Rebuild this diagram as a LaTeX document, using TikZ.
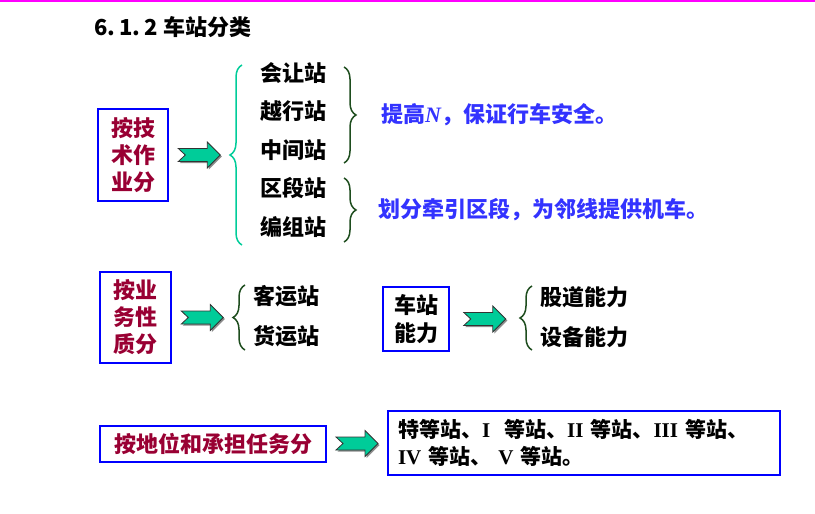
\documentclass[tikz,border=0pt]{standalone}
\usepackage{fontspec}
\setmainfont{Noto Sans CJK SC}
\newfontfamily\serifnum{Liberation Serif}
\usepackage{tikz}
\usetikzlibrary{chains}
\usetikzlibrary{positioning}
\usetikzlibrary{calc}
\usetikzlibrary{decorations.pathreplacing}
\usetikzlibrary{shadows}

\definecolor{boxblue}{HTML}{0000FF}
\definecolor{kindred}{HTML}{990033}
\definecolor{noteblue}{HTML}{3333FF}
\definecolor{bracegreen}{HTML}{00CC99}
\definecolor{bracedark}{HTML}{1E4D1E}
\definecolor{arrowgreen}{HTML}{00CC99}
\definecolor{arrowline}{HTML}{333333}
\definecolor{topline}{HTML}{FF00FF}

\begin{document}
\begin{tikzpicture}[
	x=1pt, y=1pt,
	start chain=1 going below,
	start chain=2 going below,
	start chain=3 going below,
	node distance=8pt,
	every node/.style={inner sep=0pt, font=\bfseries\fontsize{22}{27}\selectfont},
	catbox/.style={
		draw=boxblue,
		line width=1.2pt,
		align=center,
		text=kindred
		},
	station/.style={
		on chain=1,
		minimum height=30pt
	},
	pass/.style={
		on chain=2,
		minimum height=32pt
	},
	capitem/.style={
		on chain=3,
		minimum height=32pt
	},
	note/.style={
		anchor=west,
		text=noteblue
	},
	gbrace/.style={
		decorate,
		decoration={brace, amplitude=12pt},
		draw=bracegreen,
		line width=1.5pt
	},
	dbrace/.style={
		decorate,
		decoration={brace, amplitude=12pt},
		draw=bracedark,
		line width=1.5pt
	},
	pics/fatarrow/.style={code={
		\draw[fill=arrowgreen, draw=arrowline, line width=0.8pt,
			drop shadow={shadow xshift=1.5pt, shadow yshift=-1.5pt, fill=black!45, opacity=1}]
			(-21,6.5) -- (8,6.5) -- (8,13) -- (21,0) -- (8,-13) -- (8,-6.5)
			-- (-21,-6.5) -- (-14,0) -- cycle;
	}}
]
\useasboundingbox (0,0) rectangle (815,-514);
\draw[draw=topline, line width=2pt] (0,-1) -- (815,-1);

% Title
\node[anchor=west] (title) at (94,-27) {6.\kern4pt1.\kern4pt2\kern6pt 车站分类};

% Boxes
\node[catbox, minimum width=70pt, minimum height=92pt] (tech) at (133,-155) {按技\\术作\\业分};
\node[catbox, minimum width=71pt, minimum height=91pt] (nature) at (135.5,-317.5) {按业\\务性\\质分};
\node[catbox, text=black, minimum width=66pt, minimum height=64pt,
	font=\bfseries\fontsize{22}{28}\selectfont] (capacity) at (416,-319) {车站\\能力};
\node[catbox, minimum width=226pt, minimum height=36pt] (rank) at (213,-444) {按地位和承担任务分};
\node[catbox, text=black, align=left, text width=372pt, inner xsep=10pt, minimum height=64pt,
	font=\bfseries\fontsize{21}{27}\selectfont] (grades) at (584,-443)
	{特等站、{\serifnum I}\ \ 等站、{\serifnum II} 等站、{\serifnum III} 等站、\\{\serifnum IV} 等站、 {\serifnum V} 等站。};

% Stations
\node[station] (hui) at (293.5,-73) {会让站};
\node[station] (yue) {越行站};
\node[station] (zhong) {中间站};
\node[station] (qu) {区段站};
\node[station] (bian) {编组站};
\node[pass] (keyun) at (286,-296) {客运站};
\node[pass] (huoyun) {货运站};
\node[capitem] (gudao) at (584,-297) {股道能力};
\node[capitem] (shebei) {设备能力};

% Notes
\node[note] (safety) at (381,-115) {提高{\serifnum\itshape N}，保证行车安全。};
\node[note] (loco) at (378,-210) {划分牵引区段，为邻线提供机车。};

% Braces
\coordinate (tech top) at (242,-65);
\coordinate (tech bottom) at (242,-245);
\coordinate (tech tip) at (230,-155);
\coordinate (safety top) at (344,-67);
\coordinate (safety bottom) at (344,-163);
\coordinate (loco top) at (344,-178);
\coordinate (loco bottom) at (344,-242);
\coordinate (nature top) at (245,-285);
\coordinate (nature bottom) at (245,-350);
\coordinate (nature tip) at (233,-317.5);
\coordinate (capacity top) at (532,-286);
\coordinate (capacity bottom) at (532,-350);
\coordinate (capacity tip) at (520,-319);
\draw[gbrace] (tech bottom) -- (tech top);
\draw[dbrace] (safety top) -- (safety bottom);
\draw[dbrace] (loco top) -- (loco bottom);
\draw[dbrace] (nature bottom) -- (nature top);
\draw[dbrace] (capacity bottom) -- (capacity top);

% Arrows
\pic at ($(tech.east)!.5!(tech tip)$) {fatarrow};
\pic at ($(nature.east)!.5!(nature tip)$) {fatarrow};
\pic at ($(capacity.east)!.5!(capacity tip)$) {fatarrow};
\pic at ($(rank.east)!.5!(grades.west)$) {fatarrow};

\end{tikzpicture}
\end{document}
